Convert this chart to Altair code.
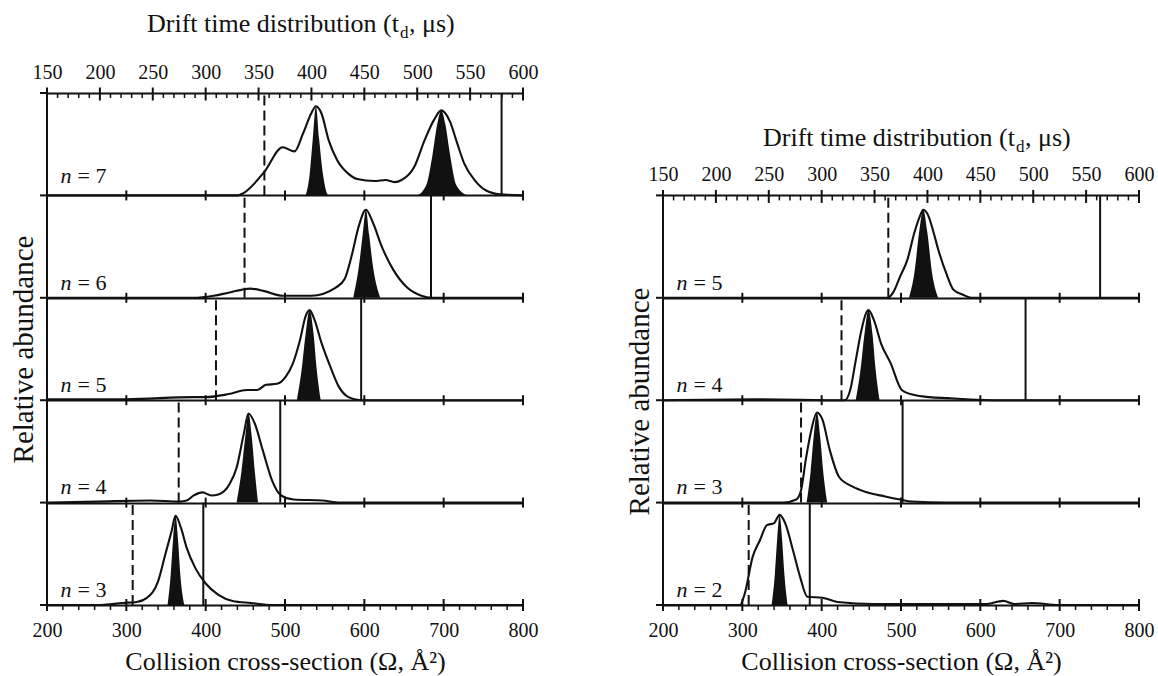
import altair as alt
import pandas as pd

FONT = "'Liberation Serif', 'Times New Roman', 'DejaVu Serif', serif"
INK = "#111111"

# ---------------- axis tick values ----------------
CCS_MAJOR = [200, 300, 400, 500, 600, 700, 800]
CCS_MINOR = [v for v in range(200, 801, 20) if v % 100]
TD_MAJOR = [150, 200, 250, 300, 350, 400, 450, 500, 550, 600]
TD_MINOR = [v for v in range(150, 601, 10) if v % 50]

# ---------------- left panel (n = 7 ... 3) ----------------
L7_CCS = [200, 440, 447, 474, 497, 512, 523, 533, 539, 546, 555, 566, 580, 591, 613, 627, 638, 647, 663, 676, 688, 697, 708, 717, 726, 739, 753, 771, 800]
L7_INT = [0, 0, 0.02, 0.23, 0.47, 0.43, 0.61, 0.80, 0.87, 0.80, 0.54, 0.34, 0.21, 0.16, 0.14, 0.15, 0.13, 0.15, 0.28, 0.54, 0.74, 0.83, 0.72, 0.51, 0.31, 0.15, 0.05, 0.01, 0]
L7_FILL_CCS = [526, 531, 535, 539, 543, 548, 555, 665, 678, 686, 692, 697, 702, 708, 716, 730]
L7_FILL_INT = [0, 0.2, 0.55, 0.87, 0.55, 0.2, 0, 0, 0.1, 0.4, 0.7, 0.83, 0.7, 0.4, 0.1, 0]

L6_CCS = [200, 384, 410, 429, 456, 474, 497, 533, 564, 575, 584, 593, 602, 611, 622, 636, 654, 672, 685, 800]
L6_INT = [0, 0, 0.02, 0.05, 0.09, 0.065, 0.02, 0.02, 0.10, 0.18, 0.41, 0.70, 0.86, 0.73, 0.50, 0.28, 0.10, 0.02, 0, 0]
L6_FILL_CCS = [586, 593, 598, 602, 606, 611, 620]
L6_FILL_INT = [0, 0.3, 0.62, 0.86, 0.62, 0.3, 0]

L5_CCS = [200, 300, 384, 400, 429, 452, 465, 476, 490, 501, 510, 519, 526, 531, 537, 546, 557, 568, 580, 595, 800]
L5_INT = [0.01, 0.01, 0.03, 0.03, 0.06, 0.10, 0.10, 0.15, 0.16, 0.23, 0.36, 0.59, 0.82, 0.88, 0.79, 0.56, 0.33, 0.13, 0.03, 0, 0]
L5_FILL_CCS = [515, 521, 526, 531, 536, 540, 545]
L5_FILL_INT = [0, 0.3, 0.65, 0.88, 0.65, 0.3, 0]

L4_CCS = [200, 263, 331, 367, 376, 385, 396, 407, 416, 430, 439, 448, 454, 462, 472, 484, 495, 511, 547, 569, 800]
L4_INT = [0, 0.01, 0.02, 0.01, 0.02, 0.07, 0.10, 0.07, 0.08, 0.18, 0.34, 0.67, 0.87, 0.77, 0.51, 0.21, 0.07, 0.03, 0.02, 0, 0]
L4_FILL_CCS = [439, 445, 450, 454, 458, 462, 466]
L4_FILL_INT = [0, 0.3, 0.65, 0.87, 0.65, 0.3, 0]

L3_CCS = [200, 268, 295, 313, 326, 340, 349, 357, 362, 369, 376, 387, 400, 416, 434, 457, 484, 800]
L3_INT = [0, 0, 0.02, 0.03, 0.07, 0.23, 0.49, 0.72, 0.87, 0.75, 0.56, 0.36, 0.21, 0.10, 0.04, 0.02, 0, 0]
L3_FILL_CCS = [352, 356, 359, 362, 365, 368, 373]
L3_FILL_INT = [0, 0.3, 0.65, 0.87, 0.65, 0.3, 0]

LEFT_N = [7, 6, 5, 4, 3]
LEFT_DASHED = [474, 449, 413, 366, 308]
LEFT_SOLID = [773, 684, 596, 494, 397]

# ---------------- right panel (n = 5 ... 2) ----------------
R5_CCS = [200, 483, 490, 499, 508, 517, 524, 528, 534, 541, 547, 557, 566, 578, 589, 800]
R5_INT = [0, 0, 0.05, 0.21, 0.37, 0.64, 0.80, 0.86, 0.81, 0.64, 0.47, 0.24, 0.08, 0.03, 0, 0]
R5_FILL_CCS = [510, 517, 523, 528, 533, 539, 547]
R5_FILL_INT = [0, 0.25, 0.65, 0.86, 0.65, 0.25, 0]

R4_CCS = [200, 317, 429, 436, 443, 450, 456, 459, 466, 475, 487, 501, 517, 536, 559, 582, 624, 800]
R4_INT = [0, 0.01, 0, 0.10, 0.39, 0.68, 0.85, 0.88, 0.78, 0.55, 0.36, 0.10, 0.05, 0.03, 0.02, 0.01, 0, 0]
R4_FILL_CCS = [443, 449, 454, 459, 464, 468, 473]
R4_FILL_INT = [0, 0.3, 0.65, 0.88, 0.65, 0.3, 0]

R3_CCS = [200, 352, 368, 374, 380, 387, 394, 401, 410, 422, 438, 457, 480, 499, 513, 559, 800]
R3_INT = [0, 0, 0.03, 0.12, 0.42, 0.71, 0.88, 0.81, 0.52, 0.25, 0.16, 0.10, 0.06, 0.03, 0.01, 0, 0]
R3_FILL_CCS = [381, 386, 390, 394, 398, 402, 407]
R3_FILL_INT = [0, 0.3, 0.65, 0.88, 0.65, 0.3, 0]

R2_CCS = [200, 297, 303, 313, 322, 331, 340, 347, 354, 364, 373, 382, 401, 420, 466, 606, 629, 643, 665, 699, 800]
R2_INT = [0, 0, 0.11, 0.47, 0.63, 0.78, 0.80, 0.88, 0.80, 0.53, 0.27, 0.08, 0.07, 0.03, 0.01, 0.01, 0.04, 0.01, 0.02, 0, 0]
R2_FILL_CCS = [337, 341, 344, 347, 350, 353, 357]
R2_FILL_INT = [0, 0.3, 0.65, 0.88, 0.65, 0.3, 0]

RIGHT_N = [5, 4, 3, 2]
RIGHT_DASHED = [484, 425, 374, 308]
RIGHT_SOLID = [751, 657, 502, 385]

LEFT_ROWS = [
    (L7_CCS, L7_INT, L7_FILL_CCS, L7_FILL_INT),
    (L6_CCS, L6_INT, L6_FILL_CCS, L6_FILL_INT),
    (L5_CCS, L5_INT, L5_FILL_CCS, L5_FILL_INT),
    (L4_CCS, L4_INT, L4_FILL_CCS, L4_FILL_INT),
    (L3_CCS, L3_INT, L3_FILL_CCS, L3_FILL_INT),
]
RIGHT_ROWS = [
    (R5_CCS, R5_INT, R5_FILL_CCS, R5_FILL_INT),
    (R4_CCS, R4_INT, R4_FILL_CCS, R4_FILL_INT),
    (R3_CCS, R3_INT, R3_FILL_CCS, R3_FILL_INT),
    (R2_CCS, R2_INT, R2_FILL_CCS, R2_FILL_INT),
]

W, H = 476, 512
YSCALE = alt.Scale(domain=[0, 5], nice=False, zero=False)
XSCALE = alt.Scale(domain=[200, 800], nice=False, zero=False)
TSCALE = alt.Scale(domain=[150, 600], nice=False, zero=False)


def build_panel(ns, rows, dashed, solid, title_y_px, ytitle_y, td_offset, lift_first):
    nrows = len(ns)
    top = nrows
    curve, fill, vl, lab = [], [], [], []
    for i, (n, (cx, cy, fx, fy)) in enumerate(zip(ns, rows)):
        base = nrows - 1 - i
        for x, v in zip(cx, cy):
            curve.append({"row": n, "ccs": x, "y": base + v})
        for x, v in zip(fx, fy):
            fill.append({"row": n, "ccs": x, "y": base + v, "y0": base})
        vl.append({"row": n, "ccs": dashed[i], "y": base, "y0": base + 1, "kind": "dashed"})
        vl.append({"row": n, "ccs": solid[i], "y": base, "y0": base + 1, "kind": "solid"})
        lift = lift_first if i == 0 else 0.08
        lab.append({"ccs": 217, "y": base + lift, "t1": "n", "t2": f"= {n}"})
    curve = pd.DataFrame(curve)
    fill = pd.DataFrame(fill)
    vl = pd.DataFrame(vl)
    lab = pd.DataFrame(lab)

    sep = pd.DataFrame([{"ccs": c, "y": r} for r in range(1, top) for c in CCS_MAJOR])
    bmaj = pd.DataFrame([{"ccs": c, "y": 0} for c in CCS_MAJOR])
    bmin = pd.DataFrame([{"ccs": c, "y": 0} for c in CCS_MINOR])
    frame = pd.DataFrame([{"ccs": 200, "y": 0, "y0": top}])
    stubs = pd.DataFrame([{"y": r} for r in range(0, top + 1)])
    tmaj = pd.DataFrame([{"t": t, "y": top} for t in TD_MAJOR])
    tmin = pd.DataFrame([{"t": t, "y": top} for t in TD_MINOR])

    yaxis = alt.Axis(values=list(range(0, top + 1)), grid=True, gridColor=INK, gridWidth=2,
                     gridOpacity=1, labels=False, ticks=False, tickSize=0, domain=False,
                     title="Relative abundance", titleFont=FONT, titleFontSize=29,
                     titleFontWeight="normal", titleColor=INK, titleX=-15, titleY=ytitle_y,
                     titleBaseline="alphabetic", titleAngle=270, titleAlign="center")
    xaxis = alt.Axis(values=CCS_MAJOR, grid=False, ticks=False, tickSize=0, domain=False,
                     labelFont=FONT, labelFontSize=20, labelColor=INK, labelPadding=15,
                     labelFlush=False, labelOverlap=False,
                     title="Collision cross-section (Ω, Å²)", titleFont=FONT, titleFontSize=26,
                     titleFontWeight="normal", titleColor=INK, titleY=64, titleX=W / 2,
                     titleBaseline="alphabetic")
    taxis = alt.Axis(orient="top", values=TD_MAJOR, grid=False, ticks=False, tickSize=0,
                     domain=False, labelFont=FONT, labelFontSize=20, labelColor=INK,
                     labelPadding=11, labelFlush=False, labelOverlap=False, title=None,
                     offset=td_offset)

    X = lambda: alt.X("ccs:Q", scale=XSCALE, axis=xaxis)
    Y = lambda: alt.Y("y:Q", scale=YSCALE, axis=yaxis)

    fills = alt.Chart(fill).mark_area(color=INK, opacity=1, interpolate="monotone").encode(
        x=X(), y=Y(), y2=alt.Y2("y0:Q"), detail="row:N")
    lines = alt.Chart(curve).mark_line(color=INK, strokeWidth=2.1, interpolate="monotone").encode(
        x=X(), y=Y(), detail="row:N")
    dash = alt.Chart(vl[vl.kind == "dashed"]).mark_rule(color=INK, strokeWidth=2, strokeDash=[10, 5]).encode(
        x=X(), y=Y(), y2=alt.Y2("y0:Q"))
    sol = alt.Chart(vl[vl.kind == "solid"]).mark_rule(color=INK, strokeWidth=2).encode(
        x=X(), y=Y(), y2=alt.Y2("y0:Q"))
    frm = alt.Chart(frame).mark_rule(color=INK, strokeWidth=2).encode(x=X(), y=Y(), y2=alt.Y2("y0:Q"))
    stub = alt.Chart(stubs).mark_rule(color=INK, strokeWidth=2).encode(
        x=alt.value(-7), x2=alt.value(0), y=Y())
    sept = alt.Chart(sep).mark_tick(orient="vertical", color=INK, size=10, thickness=2, opacity=1).encode(x=X(), y=Y())
    bmj = alt.Chart(bmaj).mark_tick(orient="vertical", color=INK, size=12, thickness=2, opacity=1).encode(x=X(), y=Y())
    bmn = alt.Chart(bmin).mark_tick(orient="vertical", color=INK, size=5, thickness=1.5, yOffset=2.5, opacity=1).encode(x=X(), y=Y())
    l1 = alt.Chart(lab).mark_text(font=FONT, fontSize=22, fontStyle="italic", align="left",
                                  baseline="alphabetic", color=INK).encode(x=X(), y=Y(), text="t1:N")
    l2 = alt.Chart(lab).mark_text(font=FONT, fontSize=22, align="left", dx=17,
                                  baseline="alphabetic", color=INK).encode(x=X(), y=Y(), text="t2:N")

    one = alt.Data(values=[{"a": 1}])
    ax = 352
    t1 = alt.Chart(one).mark_text(text="Drift time distribution (t", font=FONT, fontSize=26, align="right",
                                  baseline="alphabetic", color=INK).encode(x=alt.value(ax), y=alt.value(title_y_px))
    t2 = alt.Chart(one).mark_text(text="d", font=FONT, fontSize=17, align="left",
                                  baseline="alphabetic", color=INK).encode(x=alt.value(ax + 1), y=alt.value(title_y_px + 6))
    t3 = alt.Chart(one).mark_text(text=", μs)", font=FONT, fontSize=26, align="left",
                                  baseline="alphabetic", color=INK).encode(x=alt.value(ax + 10), y=alt.value(title_y_px))

    main = alt.layer(fills, lines, dash, sol, frm, stub, sept, bmj, bmn, l1, l2, t1, t2, t3)

    TX = lambda: alt.X("t:Q", scale=TSCALE, axis=taxis)
    tmj = alt.Chart(tmaj).mark_tick(orient="vertical", color=INK, size=13, thickness=2, yOffset=1, opacity=1).encode(x=TX(), y=Y())
    tmn = alt.Chart(tmin).mark_tick(orient="vertical", color=INK, size=5, thickness=1.5, yOffset=2.5, opacity=1).encode(x=TX(), y=Y())
    drift = alt.layer(tmj, tmn)

    return alt.layer(main, drift).resolve_scale(x="independent").properties(width=W, height=H)


left = build_panel(LEFT_N, LEFT_ROWS, LEFT_DASHED, LEFT_SOLID, -61, 256, 0, 0.12)
right = build_panel(RIGHT_N, RIGHT_ROWS, RIGHT_DASHED, RIGHT_SOLID, 53, 308, -102.4, 0.08)

chart = alt.hconcat(left, right, spacing=140, bounds="flush").properties(
    padding={"left": 8, "top": 11, "right": 4, "bottom": 2},
    background="white",
).configure_view(stroke=None)

chart.save("out.html", embed_options={"renderer": "svg", "actions": False})
